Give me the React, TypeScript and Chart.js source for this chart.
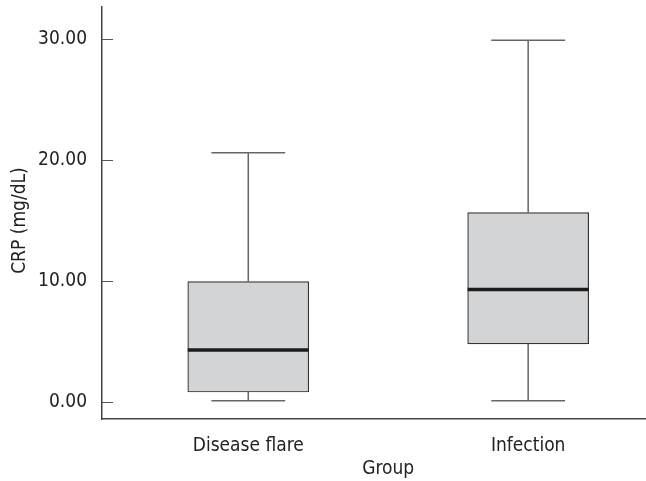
import React, { useEffect, useRef } from "react";
import { Chart, registerables } from "chart.js";

Chart.register(...registerables);

const groups = ["Disease flare", "Infection"];
const groupPos = [1, 2];
const mins = [0.1, 0.1];
const q1s = [0.83, 4.8];
const medians = [4.3, 9.3];
const q3s = [9.95, 15.65];
const maxs = [20.6, 29.9];
const yTicks = [0, 10, 20, 30];
const xTitle = "Group";
const yTitle = "CRP (mg/dL)";

const FONT = "'Liberation Sans Narrow', 'DejaVu Sans Condensed', Roboto, sans-serif";
const FSIZE = 19;

const boxPlugin = {
  id: "boxExtras",
  afterDatasetsDraw(chart: any) {
    const ctx = chart.ctx;
    const xs = chart.scales.x;
    const ys = chart.scales.y;
    const meta = chart.getDatasetMeta(0);
    ctx.save();
    groupPos.forEach((g, i) => {
      const cx = xs.getPixelForValue(g);
      const bar = meta.data[i];
      const w = bar ? bar.width : 121;
      const capW = w * 0.61;
      const yMin = ys.getPixelForValue(mins[i]);
      const yQ1 = ys.getPixelForValue(q1s[i]);
      const yMed = ys.getPixelForValue(medians[i]);
      const yQ3 = ys.getPixelForValue(q3s[i]);
      const yMax = ys.getPixelForValue(maxs[i]);
      ctx.strokeStyle = "#666";
      ctx.lineWidth = 1.5;
      ctx.beginPath();
      ctx.moveTo(cx, yQ3);
      ctx.lineTo(cx, yMax);
      ctx.moveTo(cx - capW / 2, yMax);
      ctx.lineTo(cx + capW / 2, yMax);
      ctx.moveTo(cx, yQ1);
      ctx.lineTo(cx, yMin);
      ctx.moveTo(cx - capW / 2, yMin);
      ctx.lineTo(cx + capW / 2, yMin);
      ctx.stroke();
      ctx.strokeStyle = "#1c1c1c";
      ctx.lineWidth = 3.5;
      ctx.beginPath();
      ctx.moveTo(cx - w / 2, yMed);
      ctx.lineTo(cx + w / 2, yMed);
      ctx.stroke();
    });
    const left = chart.chartArea.left;
    ctx.strokeStyle = "#555";
    ctx.lineWidth = 1.2;
    ctx.beginPath();
    yTicks.forEach((t) => {
      const y = Math.round(ys.getPixelForValue(t)) + 0.5;
      ctx.moveTo(left, y);
      ctx.lineTo(left + 11, y);
    });
    ctx.stroke();
    ctx.fillStyle = "#222";
    ctx.font = `${FSIZE}px ${FONT}`;
    ctx.textAlign = "center";
    // x-axis title, centred between the two groups
    const midX = xs.getPixelForValue((groupPos[0] + groupPos[groupPos.length - 1]) / 2);
    ctx.textBaseline = "alphabetic";
    ctx.fillText(xTitle, midX, 474);
    // y-axis title, centred on the tick range
    const midY = ys.getPixelForValue((yTicks[0] + yTicks[yTicks.length - 1]) / 2);
    ctx.save();
    ctx.translate(20, midY);
    ctx.rotate(-Math.PI / 2);
    ctx.textBaseline = "middle";
    ctx.fillText(yTitle, 0, 0);
    ctx.restore();
    ctx.restore();
  },
};

export default function App() {
  const ref = useRef<HTMLCanvasElement | null>(null);
  useEffect(() => {
    if (!ref.current) return;
    const chart = new Chart(ref.current, {
      type: "bar",
      data: {
        datasets: [
          {
            data: groupPos.map((g, i) => ({ x: g, y: [q1s[i], q3s[i]] })) as any,
            backgroundColor: "#d3d4d6",
            borderColor: "#333",
            borderWidth: 1.2,
            borderSkipped: false,
            barThickness: 121,
          },
        ],
      },
      options: {
        animation: false,
        responsive: true,
        maintainAspectRatio: false,
        layout: { padding: { top: 7, right: 0, left: 0, bottom: 0 } },
        plugins: { legend: { display: false }, tooltip: { enabled: false } },
        scales: {
          x: {
            type: "linear",
            offset: false,
            min: 0.4774,
            max: 2.421,
            grid: { display: false, drawTicks: false },
            border: { display: true, color: "#444", width: 1.5 },
            afterBuildTicks: (s: any) => {
              s.ticks = groupPos.map((v) => ({ value: v }));
            },
            afterFit: (s: any) => {
              s.height = 62;
              s.paddingLeft = 0;
              s.paddingRight = 0;
            },
            ticks: {
              padding: 16,
              color: "#222",
              font: { family: FONT, size: FSIZE },
              autoSkip: false,
              maxRotation: 0,
              callback: (v: any) => {
                const i = groupPos.indexOf(Number(v));
                return i >= 0 ? groups[i] : "";
              },
            },
            title: { display: false },
          },
          y: {
            min: -1.4,
            max: 32.65,
            grid: { display: false, drawTicks: false },
            border: { display: true, color: "#444", width: 1.5 },
            afterBuildTicks: (s: any) => {
              s.ticks = yTicks.map((v) => ({ value: v }));
            },
            afterFit: (s: any) => {
              s.width = 102;
              s.paddingTop = 0;
              s.paddingBottom = 0;
            },
            ticks: {
              padding: 15,
              color: "#222",
              font: { family: FONT, size: FSIZE },
              callback: (v: any) => Number(v).toFixed(2),
            },
            title: { display: false },
          },
        },
      },
      plugins: [boxPlugin],
    } as any);
    return () => chart.destroy();
  }, []);
  return (
    <div style={{ position: "fixed", left: 0, top: 0, width: 646, height: 481, background: "#fff" }}>
      <canvas ref={ref} />
    </div>
  );
}
